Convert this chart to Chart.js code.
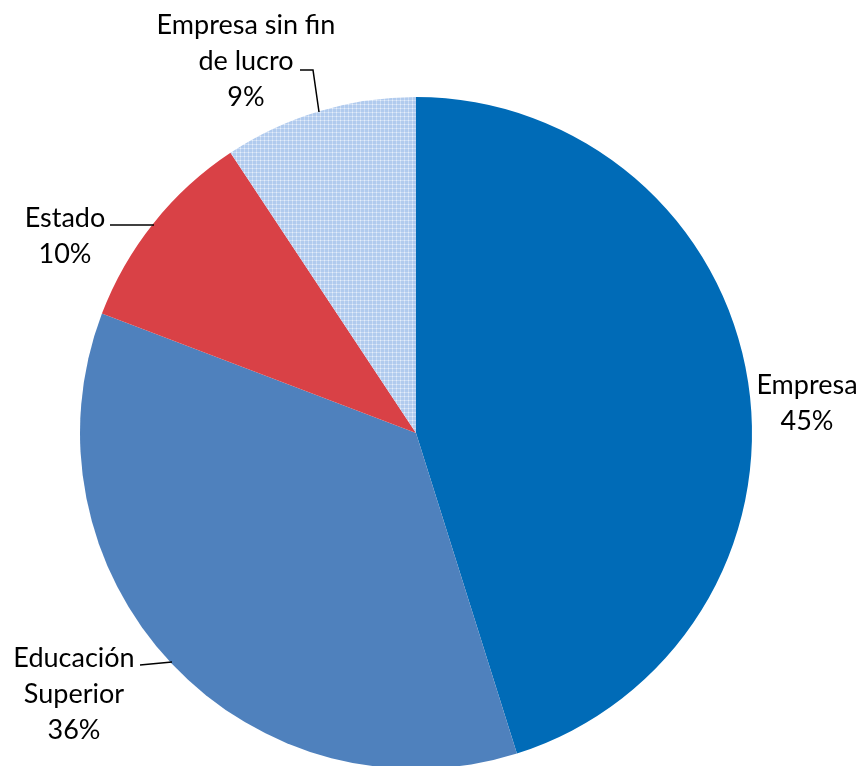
<!DOCTYPE html>
<html>
<head>
<meta charset="utf-8">
<script src="https://cdn.jsdelivr.net/npm/chart.js@4.4.0/dist/chart.umd.min.js"></script>
<style>
    html, body { margin: 0; padding: 0; background: #fff; overflow: hidden; }
    #wrap { width: 860px; height: 780px; }
</style>
</head>
<body>
<div id="wrap"><canvas id="pieChart" width="860" height="780"></canvas></div>
<script>
    // 데이터
    const categories = ['Empresa', 'Educación Superior', 'Estado', 'Empresa sin fin de lucro'];
    const shares = [45.1, 35.6, 9.9, 9.3];

    // 라벨 줄바꿈 / 위치 (텍스트 중심 좌표)
    const labelLines = [
        ['Empresa'],
        ['Educación', 'Superior'],
        ['Estado'],
        ['Empresa sin fin', 'de lucro']
    ];
    const labelLayout = [
        { x: 807, y: 385, leader: null },
        { x: 74, y: 658, leader: [[140, 665], [172, 662]] },
        { x: 65, y: 218, leader: [[110, 225], [154, 225]] },
        { x: 246, y: 25, leader: [[300, 70], [313, 70], [319, 112]] }
    ];

    // 옅은 파랑 패턴
    function makePattern() {
        const p = document.createElement('canvas');
        p.width = 4;
        p.height = 4;
        const c = p.getContext('2d');
        c.fillStyle = '#b1cbee';
        c.fillRect(0, 0, 4, 4);
        c.fillStyle = '#cbdcf4';
        c.fillRect(0, 0, 4, 1);
        c.fillRect(0, 0, 1, 4);
        c.fillStyle = '#e6effa';
        c.fillRect(0, 0, 1, 1);
        return document.getElementById('pieChart').getContext('2d').createPattern(p, 'repeat');
    }

    const total = shares.reduce((a, b) => a + b, 0);

    const labelPlugin = {
        id: 'pieLabels',
        afterDraw(chart) {
            const ctx = chart.ctx;
            ctx.save();
            ctx.font = '27px Lato, "Open Sans", sans-serif';
            ctx.fillStyle = '#000';
            ctx.textAlign = 'center';
            ctx.textBaseline = 'middle';
            ctx.strokeStyle = '#000';
            ctx.lineWidth = 1.5;
            for (let i = 0; i < categories.length; i++) {
                const pos = labelLayout[i];
                const lines = labelLines[i].concat([Math.round(shares[i] / total * 100) + '%']);
                lines.forEach((t, k) => ctx.fillText(t, pos.x, pos.y + k * 36));
                if (pos.leader) {
                    ctx.beginPath();
                    pos.leader.forEach((pt, k) => k ? ctx.lineTo(pt[0], pt[1]) : ctx.moveTo(pt[0], pt[1]));
                    ctx.stroke();
                }
            }
            ctx.restore();
        }
    };

    new Chart(document.getElementById('pieChart'), {
        type: 'pie',
        data: {
            labels: categories,
            datasets: [{
                data: shares,
                backgroundColor: ['#006bb7', '#4f81bd', '#d94146', makePattern()],
                borderWidth: 0
            }]
        },
        options: {
            responsive: false,
            animation: false,
            layout: { padding: { top: 97, bottom: 11, left: 80, right: 108 } },
            plugins: {
                legend: { display: false },
                tooltip: { enabled: false }
            }
        },
        plugins: [labelPlugin]
    });
</script>
</body>
</html>
